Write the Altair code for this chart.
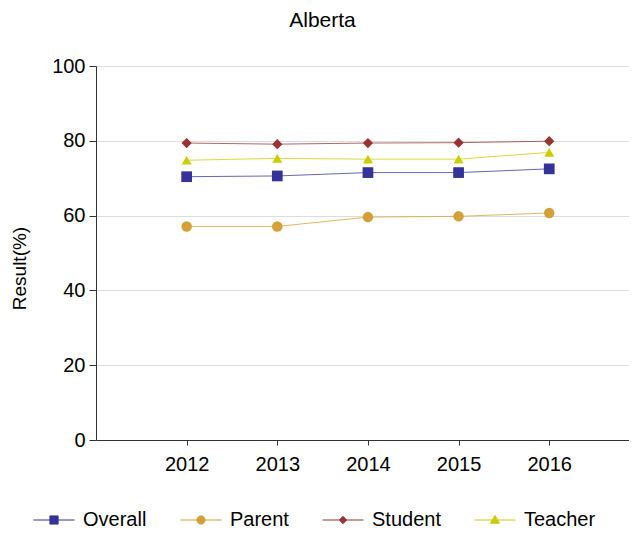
import altair as alt
import pandas as pd

years = [2012, 2013, 2014, 2015, 2016]
series_names = ["Overall", "Parent", "Student", "Teacher"]
overall = [70.4, 70.6, 71.5, 71.5, 72.5]
parent = [57.1, 57.1, 59.6, 59.8, 60.7]
student = [79.4, 79.1, 79.4, 79.5, 79.9]
teacher = [74.8, 75.3, 75.1, 75.1, 76.9]

colors = ["#333399", "#D4A037", "#993333", "#CCCC00"]
shapes = ["square", "circle", "diamond", "triangle-up"]
sizes = [115, 100, 85, 121]
legend_shapes = [
    "M-1,0H1M-0.2,-0.2H0.2V0.2H-0.2Z",
    "M-1,0H1M-0.2,0A0.2,0.2,0,1,0,0.2,0A0.2,0.2,0,1,0,-0.2,0Z",
    "M-1,0H1M-0.18,0L0,-0.18L0.18,0L0,0.18Z",
    "M-1,0H1M0,-0.22L0.22,0.16L-0.22,0.16Z",
]

rows = []
for name, vals in zip(series_names, [overall, parent, student, teacher]):
    for y, v in zip(years, vals):
        rows.append({"year": y, "value": v, "series": name})
df = pd.DataFrame(rows)

FONT = "Liberation Sans"

x = alt.X("year:Q", scale=alt.Scale(domain=[2011, 2016.88], nice=False, zero=False),
          axis=alt.Axis(values=years, format="d", title=None, grid=False,
                        labelFontSize=20, labelColor="#000", labelPadding=9,
                        tickSize=5, tickColor="#333", domainColor="#333", labelFont=FONT))
y = alt.Y("value:Q", scale=alt.Scale(domain=[0, 100], nice=False),
          axis=alt.Axis(values=[0, 20, 40, 60, 80, 100], title="Result(%)",
                        grid=True, gridColor="#dddddd", labelFontSize=20,
                        labelColor="#000", labelPadding=4, tickSize=7, tickColor="#333",
                        domainColor="#333", labelFont=FONT, titleFont=FONT,
                        titleFontSize=19, titleFontWeight="normal", titleColor="#000",
                        titleX=-77, titleY=202, titleAngle=-90, titleAlign="center",
                        titleBaseline="middle"))

color_scale = alt.Scale(domain=series_names, range=colors)

lines = alt.Chart(df).mark_line(strokeWidth=1, opacity=0.75).encode(
    x=x, y=y,
    color=alt.Color("series:N", scale=color_scale, legend=None),
)

points = alt.Chart(df).mark_point(filled=True, opacity=1).encode(
    x=x, y=y,
    color=alt.Color("series:N", scale=color_scale, legend=None),
    shape=alt.Shape("series:N", scale=alt.Scale(domain=series_names, range=shapes), legend=None),
    size=alt.Size("series:N", scale=alt.Scale(domain=series_names, range=sizes), legend=None),
)

legend_layer = alt.Chart(df).mark_point(filled=True, size=0, opacity=1).encode(
    x=x, y=y,
    fill=alt.Fill("series:N", scale=color_scale,
                  legend=alt.Legend(title=None, orient="none", legendX=-63, legendY=433,
                                    direction="horizontal", symbolSize=1681,
                                    symbolStrokeWidth=1, symbolOpacity=1,
                                    labelFontSize=20, labelFont=FONT, labelColor="#000",
                                    labelOffset=8, columnPadding=31, padding=0)),
    stroke=alt.Stroke("series:N", scale=color_scale),
    shape=alt.Shape("series:N", scale=alt.Scale(domain=series_names, range=legend_shapes)),
)

chart = alt.layer(lines, points, legend_layer).resolve_scale(
    shape="independent", color="independent", fill="independent", stroke="independent", size="independent"
).properties(
    width=533, height=374,
    title=alt.TitleParams("Alberta", anchor="middle", dx=-40, offset=25, fontSize=21,
                          font=FONT, fontWeight="normal", color="#000"),
    autosize=alt.AutoSizeParams(type="none"),
    padding={"left": 88, "top": 58, "right": 0, "bottom": 87},
).configure_view(stroke=None).configure_axis(domainWidth=1, tickWidth=1)

chart.save("out.html", embed_options={"renderer": "svg", "actions": False})
